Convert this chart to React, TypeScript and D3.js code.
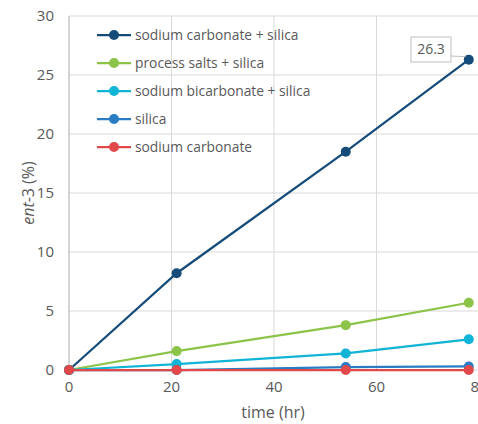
import React from "react";
import * as d3 from "d3";

// time (hr) of each sample
const times = [0, 21, 54, 78];

const seriesNames = [
  "sodium carbonate + silica",
  "process salts + silica",
  "sodium bicarbonate + silica",
  "silica",
  "sodium carbonate",
];
const seriesColors = ["#154c79", "#8cc349", "#10b4d6", "#2a7cc4", "#e0484a"];

const carbonateSilica = [0, 8.2, 18.5, 26.3];
const processSalts = [0, 1.6, 3.8, 5.7];
const bicarbonateSilica = [0, 0.5, 1.4, 2.6];
const silica = [0, 0, 0.25, 0.3];
const carbonate = [0, 0, 0, 0];

const xTicks = [0, 20, 40, 60, 80];
const yTicks = [0, 5, 10, 15, 20, 25, 30];

const W = 478;
const H = 424;
const textColor = "#595959";
const font = "'Open Sans', sans-serif";

const App = () => {
  const x = d3.scaleLinear().domain([0, 80]).range([69, 479]);
  const y = d3.scaleLinear().domain([0, 30]).range([370, 16]);

  const allSeries = [carbonateSilica, processSalts, bicarbonateSilica, silica, carbonate];

  const line = d3
    .line<number>()
    .x((_, i) => x(times[i]))
    .y((d) => y(d));

  const lastIdx = times.length - 1;
  const labelPt = { x: x(times[lastIdx]), y: y(carbonateSilica[lastIdx]) };

  return (
    <svg width={W} height={H} style={{ position: "absolute", left: 0, top: 0, background: "#fff" }}>
      {/* gridlines */}
      {yTicks.map((t) => (
        <line key={"gy" + t} x1={69} x2={W} y1={y(t)} y2={y(t)} stroke="#d9d9d9" strokeWidth={1} />
      ))}
      {xTicks.map((t) => (
        <line key={"gx" + t} x1={x(t)} x2={x(t)} y1={y(30)} y2={y(0)} stroke="#d9d9d9" strokeWidth={1} />
      ))}
      <line x1={69} x2={69} y1={y(30)} y2={y(0)} stroke="#bfbfbf" strokeWidth={1} />

      {/* tick labels */}
      {yTicks.map((t) => (
        <text key={"ty" + t} x={54} y={y(t)} dy="0.35em" textAnchor="end" fontSize={15} fill={textColor} fontFamily={font}>
          {t}
        </text>
      ))}
      {xTicks.map((t) => (
        <text key={"tx" + t} x={x(t)} y={392} textAnchor="middle" fontSize={15} fill={textColor} fontFamily={font}>
          {t}
        </text>
      ))}

      {/* axis titles */}
      <text x={273} y={418} textAnchor="middle" fontSize={16} fill={textColor} fontFamily={font}>
        time (hr)
      </text>
      <text
        transform={`translate(34, ${y(15)}) rotate(-90)`}
        textAnchor="middle"
        fontSize={16}
        fill={textColor}
        fontFamily={font}
      >
        <tspan fontStyle="italic">ent</tspan>
        <tspan>-3 (%)</tspan>
      </text>

      {/* series, in legend order so later ones sit on top */}
      {allSeries.map((vals, si) => (
        <g key={"s" + si}>
          <path d={line(vals) || ""} fill="none" stroke={seriesColors[si]} strokeWidth={2.25} />
          {vals.map((v, i) => (
            <circle key={i} cx={x(times[i])} cy={y(v)} r={5} fill={seriesColors[si]} />
          ))}
        </g>
      ))}

      {/* data label */}
      <line x1={450} y1={56} x2={labelPt.x - 3} y2={labelPt.y - 3} stroke="#bfbfbf" strokeWidth={1} />
      <rect x={411} y={37} width={40} height={25} fill="#fff" stroke="#bfbfbf" strokeWidth={1} />
      <text x={431} y={49.5} dy="0.35em" textAnchor="middle" fontSize={14} fill={textColor} fontFamily={font}>
        {carbonateSilica[lastIdx]}
      </text>

      {/* legend */}
      {seriesNames.map((name, i) => {
        const ly = 35 + i * 28;
        return (
          <g key={"l" + i}>
            <line x1={97} x2={131} y1={ly} y2={ly} stroke={seriesColors[i]} strokeWidth={2.25} />
            <circle cx={114} cy={ly} r={5} fill={seriesColors[i]} />
            <text x={135} y={ly} dy="0.35em" fontSize={13.8} fill={textColor} fontFamily={font}>
              {name}
            </text>
          </g>
        );
      })}
    </svg>
  );
};

export default App;
